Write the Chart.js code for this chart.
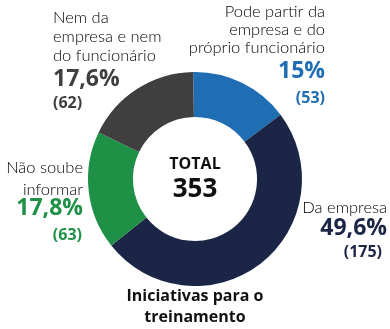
<!DOCTYPE html>
<html>
<head>
<meta charset="utf-8">
<script src="https://cdn.jsdelivr.net/npm/chart.js@4"></script>
<style>
  html, body { margin: 0; padding: 0; background: #fff; }
  #wrap { width: 390px; height: 329px; position: relative; }
</style>
</head>
<body>
<div id="wrap"><canvas id="grafico"></canvas></div>
<script>
// Dados do gráfico
const categorias = ['Pode partir da empresa e do próprio funcionário', 'Da empresa', 'Não soube informar', 'Nem da empresa e nem do funcionário'];
const quantidades = [53, 175, 63, 62];
const percentuais = ['15%', '49,6%', '17,8%', '17,6%'];
const total = 353;
const cores = ['#1f6db3', '#1b2545', '#1f9146', '#3f3f3f'];

const FONTE = '"Open Sans", "Noto Sans", sans-serif';
const FONTE_LEVE = 'Lato, "Open Sans", sans-serif';

// Textos ao redor da rosca
const rotulos = [
  { linhas: ['Pode partir da', 'empresa e do', 'próprio funcionário'], base: [17, 35, 53], pctBase: 78, qtdBase: 103, x: 325, xQtd: 325, alinhar: 'right' },
  { linhas: ['Da empresa'], base: [213], pctBase: 235, qtdBase: 257, x: 387, xQtd: 382, alinhar: 'right' },
  { linhas: ['Não soube', 'informar'], base: [173, 195], pctBase: 215, qtdBase: 240, x: 83, xQtd: 82, alinhar: 'right' },
  { linhas: ['Nem da', 'empresa e nem', 'do funcionário'], base: [23, 42, 61], pctBase: 86, qtdBase: 108, x: 53, xQtd: 53, alinhar: 'left' }
];

const pluginTextos = {
  id: 'textos',
  afterDraw(chart) {
    const ctx = chart.ctx;
    const area = chart.chartArea;
    const cx = (area.left + area.right) / 2;
    const cy = (area.top + area.bottom) / 2;
    ctx.save();
    ctx.textBaseline = 'alphabetic';

    // Total no centro
    ctx.textAlign = 'center';
    ctx.fillStyle = '#111';
    ctx.font = 'bold 16px ' + FONTE;
    ctx.fillText('TOTAL', cx, cy - 10);
    ctx.font = 'bold 26px ' + FONTE;
    ctx.fillText(String(total), cx, cy + 18);

    // Rótulos das fatias
    rotulos.forEach((r, i) => {
      ctx.textAlign = r.alinhar;
      ctx.fillStyle = '#000';
      ctx.font = '300 16.5px ' + FONTE_LEVE;
      r.linhas.forEach((l, j) => ctx.fillText(l, r.x, r.base[j]));
      ctx.fillStyle = cores[i];
      ctx.font = 'bold 23px ' + FONTE;
      ctx.fillText(percentuais[i], r.x, r.pctBase);
      ctx.font = 'bold 16px ' + FONTE;
      ctx.fillText('(' + quantidades[i] + ')', r.xQtd, r.qtdBase);
    });

    // Título embaixo
    ctx.textAlign = 'center';
    ctx.fillStyle = '#111';
    ctx.font = 'bold 16px ' + FONTE;
    ctx.fillText('Iniciativas para o', cx, 301);
    ctx.fillText('treinamento', cx, 322);
    ctx.restore();
  }
};

new Chart(document.getElementById('grafico'), {
  type: 'doughnut',
  data: {
    labels: categorias,
    datasets: [{
      data: quantidades,
      backgroundColor: cores,
      borderWidth: 0
    }]
  },
  options: {
    responsive: true,
    maintainAspectRatio: false,
    animation: false,
    rotation: -1,
    cutout: '58%',
    layout: { padding: { top: 72, bottom: 43, left: 0, right: 0 } },
    plugins: {
      legend: { display: false },
      tooltip: { enabled: false }
    }
  },
  plugins: [pluginTextos]
});
</script>
</body>
</html>
